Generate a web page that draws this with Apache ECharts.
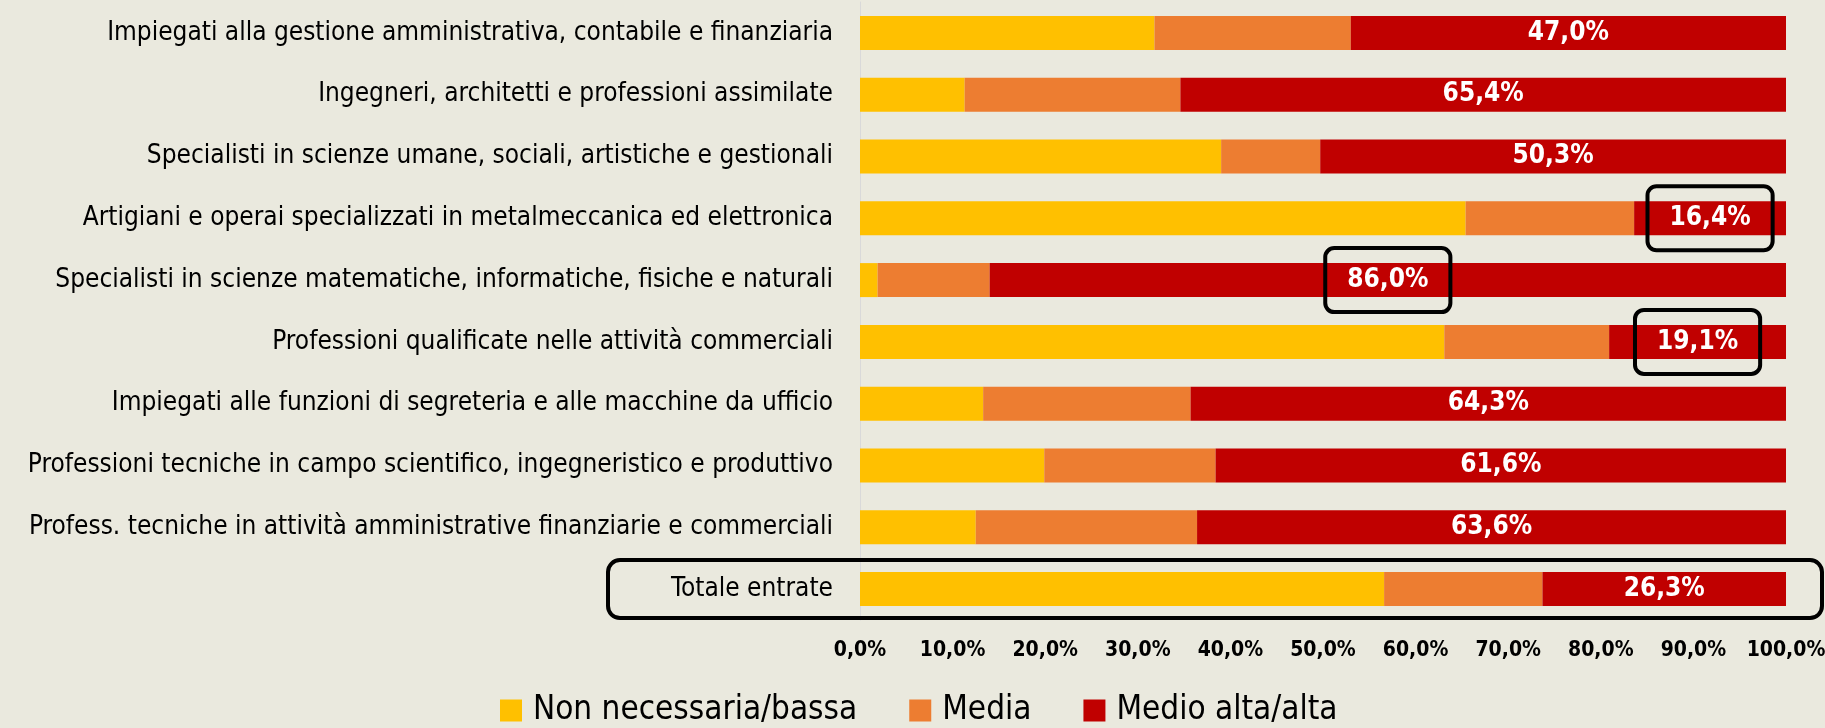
<!DOCTYPE html>
<html lang="it">
<head>
    <meta charset="UTF-8">
    <script src="https://cdn.jsdelivr.net/npm/echarts@6/dist/echarts.min.js"></script>
    <style>
        html, body { margin: 0; padding: 0; background: #EAE9DE; }
        #chart { width: 1825px; height: 728px; }
    </style>
    <title>Competenze richieste</title>
</head>
<body>
    <div id="chart"></div>
<script type="text/javascript">
    var categories = [
        'Impiegati alla gestione amministrativa, contabile e finanziaria',
        'Ingegneri, architetti e professioni assimilate',
        'Specialisti in scienze umane, sociali, artistiche e gestionali',
        'Artigiani e operai specializzati in metalmeccanica ed elettronica',
        'Specialisti in scienze matematiche, informatiche, fisiche e naturali',
        'Professioni qualificate nelle attività commerciali',
        'Impiegati alle funzioni di segreteria e alle macchine da ufficio',
        'Professioni tecniche in campo scientifico, ingegneristico e produttivo',
        'Profess. tecniche in attività amministrative finanziarie e commerciali',
        'Totale entrate'
    ];
    var seriesNames = ['Non necessaria/bassa', 'Media', 'Medio alta/alta'];
    var bassa = [31.8, 11.3, 39.0, 65.4, 1.9, 63.1, 13.3, 19.9, 12.5, 56.6];
    var media = [21.2, 23.3, 10.7, 18.2, 12.1, 17.8, 22.4, 18.5, 23.9, 17.1];
    var alta  = [47.0, 65.4, 50.3, 16.4, 86.0, 19.1, 64.3, 61.6, 63.6, 26.3];
    var xTicks = [0, 10, 20, 30, 40, 50, 60, 70, 80, 90, 100];
    // etichette evidenziate con il riquadro nero
    var evidenziate = [
        'Artigiani e operai specializzati in metalmeccanica ed elettronica',
        'Specialisti in scienze matematiche, informatiche, fisiche e naturali',
        'Professioni qualificate nelle attività commerciali'
    ];
    var rigaTotale = 'Totale entrate';

    var FONT = "'DejaVu Sans Condensed', 'Liberation Sans Narrow', sans-serif";

    function pct(v) {
        return v.toFixed(1).replace('.', ',') + '%';
    }

    var altaData = alta.map(function (v, i) {
        var item = { value: v };
        if (evidenziate.indexOf(categories[i]) >= 0) {
            item.label = {
                borderColor: '#000',
                borderWidth: 4,
                borderRadius: 9,
                padding: [19, 22, 19, 22]
            };
        }
        return item;
    });

    var chart = echarts.init(document.getElementById('chart'));
    var option = {
        backgroundColor: '#EAE9DE',
        animation: false,
        color: ['#FFC000', '#ED7D31', '#C00000'],
        grid: { left: 860, right: 39, top: 2, bottom: 108, containLabel: false, outerBoundsMode: 'none' },
        legend: {
            data: seriesNames,
            left: 495,
            top: 689,
            itemWidth: 22,
            itemHeight: 22,
            itemGap: 52,
            icon: 'rect',
            textStyle: { fontFamily: FONT, fontSize: 33, color: '#000', padding: [0, 0, 0, 6] }
        },
        xAxis: {
            type: 'value',
            min: 0,
            max: 100,
            interval: 10,
            axisLine: { show: false },
            axisTick: { show: false },
            splitLine: { show: false },
            axisLabel: {
                margin: 20,
                fontFamily: FONT,
                fontSize: 21,
                fontWeight: 'bold',
                color: '#000',
                formatter: function (v) {
                    return xTicks.indexOf(v) >= 0 ? pct(v) : '';
                }
            }
        },
        yAxis: {
            type: 'category',
            inverse: true,
            data: categories,
            axisLine: { show: true, lineStyle: { color: '#D9D9D9', width: 1 } },
            axisTick: { show: false },
            axisLabel: {
                margin: 27,
                fontFamily: FONT,
                fontSize: 26,
                color: '#000'
            }
        },
        series: [
            {
                name: seriesNames[0],
                type: 'bar',
                stack: 'tot',
                barWidth: 34,
                data: bassa
            },
            {
                name: seriesNames[1],
                type: 'bar',
                stack: 'tot',
                barWidth: 34,
                data: media
            },
            {
                name: seriesNames[2],
                type: 'bar',
                stack: 'tot',
                barWidth: 34,
                data: altaData,
                label: {
                    show: true,
                    position: 'inside',
                    fontFamily: FONT,
                    fontSize: 26,
                    fontWeight: 'bold',
                    color: '#fff',
                    formatter: function (p) { return pct(p.value); }
                }
            }
        ]
    };
    chart.setOption(option);

    // riquadro attorno alla riga del totale
    var p0 = chart.convertToPixel({ gridIndex: 0 }, [0, rigaTotale]);
    var p1 = chart.convertToPixel({ gridIndex: 0 }, [100, rigaTotale]);
    chart.setOption({
        graphic: [{
            type: 'rect',
            shape: { x: p0[0] - 252, y: p0[1] - 29, width: p1[0] - p0[0] + 288, height: 58, r: 12 },
            style: { fill: 'none', stroke: '#000', lineWidth: 4 },
            z: 10
        }]
    });
</script>
</body>
</html>
